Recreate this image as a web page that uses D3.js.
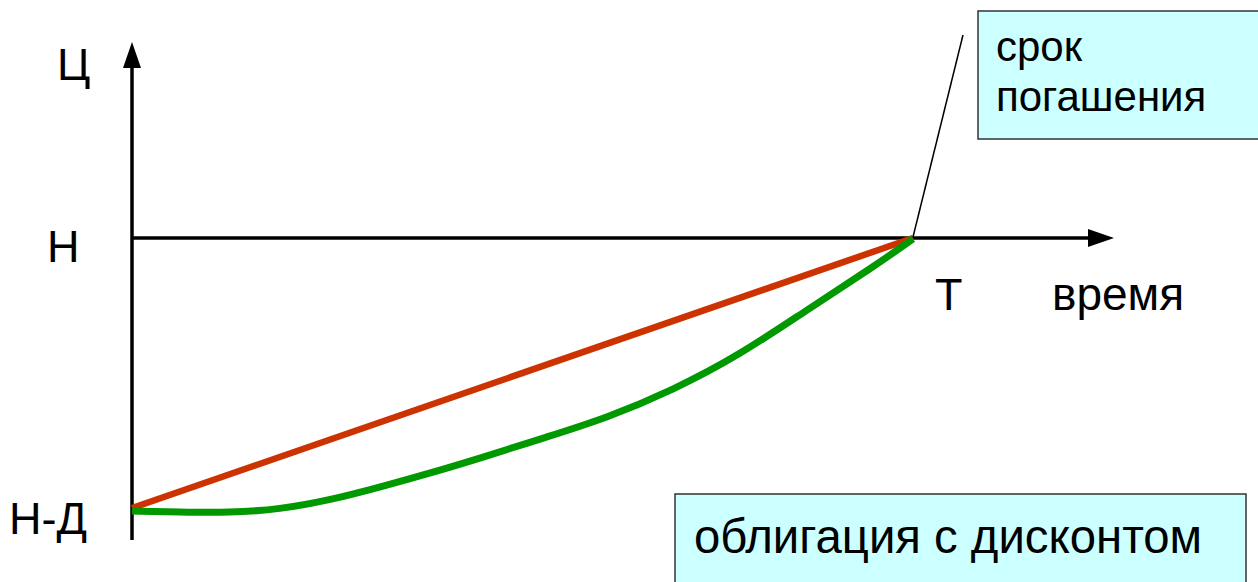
<!DOCTYPE html>
<html><head><meta charset="utf-8">
<script src="https://cdn.jsdelivr.net/npm/d3@7"></script>
<style>html,body{margin:0;padding:0;background:#fff;}svg{display:block;font-family:"Liberation Sans",Arial,sans-serif;}</style>
</head><body>
<svg id="c" width="1258" height="582"></svg>
<script>
// Data
const faceValue = 100;      // Н
const discount = 20;        // Д
const maturity = 1;         // Т
const yTickLabels = ["Н", "Н-Д"];
const xTickLabels = ["Т"];
const redT = [0, 1];
const redPrice = [80, 100];
const greenT = [0, 0.061, 0.125, 0.189, 0.254, 0.318, 0.382, 0.446, 0.531, 0.608, 0.693, 0.778, 0.864, 0.949, 1];
const greenPrice = [79.78, 79.70, 79.65, 79.90, 80.59, 81.56, 82.59, 83.70, 85.26, 86.67, 88.74, 91.33, 94.67, 97.85, 99.93];

const svg = d3.select("#c");
const x = d3.scaleLinear().domain([0, maturity]).range([132, 913]);
const y = d3.scaleLinear().domain([faceValue - discount, faceValue]).range([508, 238]);

// axes
svg.append("line").attr("x1", x(0)).attr("x2", x(0)).attr("y1", 540).attr("y2", 62)
  .attr("stroke", "#000").attr("stroke-width", 3.5);
svg.append("path").attr("d", `M${x(0)},42 L${x(0)-9},68 L${x(0)+9},68 Z`).attr("fill", "#000");
svg.append("line").attr("x1", x(0)).attr("x2", 1094).attr("y1", y(faceValue)).attr("y2", y(faceValue))
  .attr("stroke", "#000").attr("stroke-width", 3.5);
svg.append("path").attr("d", `M1114,${y(faceValue)} L1088,${y(faceValue)-9} L1088,${y(faceValue)+9} Z`).attr("fill", "#000");

// lines
const line = d3.line().x(d => x(d[0])).y(d => y(d[1]));
svg.append("path").datum(redT.map((t, i) => [t, redPrice[i]]))
  .attr("d", line).attr("fill", "none").attr("stroke", "#CC3300").attr("stroke-width", 6.5);
svg.append("path").datum(greenT.map((t, i) => [t, greenPrice[i]]))
  .attr("d", d3.line().x(d => x(d[0])).y(d => y(d[1])).curve(d3.curveBasis))
  .attr("fill", "none").attr("stroke", "#009900").attr("stroke-width", 7);

// leader line
svg.append("line").attr("x1", x(maturity)).attr("y1", y(faceValue) - 1).attr("x2", 963).attr("y2", 35)
  .attr("stroke", "#000").attr("stroke-width", 1.5);

// labels
const txt = (s, xx, yy, fs, anchor) => svg.append("text").attr("x", xx).attr("y", yy)
  .attr("font-size", fs).attr("text-anchor", anchor || "start").attr("fill", "#000").text(s);
txt("Ц", 57, 80, 45);
txt(yTickLabels[0], 47, 262, 45);
txt(yTickLabels[1], 9, 534, 45);
txt(xTickLabels[0], 935, 310, 45);
txt("время", 1052, 310, 46);

// boxes
svg.append("rect").attr("x", 978).attr("y", 11).attr("width", 300).attr("height", 128)
  .attr("fill", "#CCFFFF").attr("stroke", "#333").attr("stroke-width", 1.5);
txt("срок", 996, 61, 42);
txt("погашения", 996, 111, 42);

svg.append("rect").attr("x", 675).attr("y", 494).attr("width", 571).attr("height", 100)
  .attr("fill", "#CCFFFF").attr("stroke", "#333").attr("stroke-width", 1.5);
txt("облигация с дисконтом", 694, 553, 47.3);
</script>
</body></html>
